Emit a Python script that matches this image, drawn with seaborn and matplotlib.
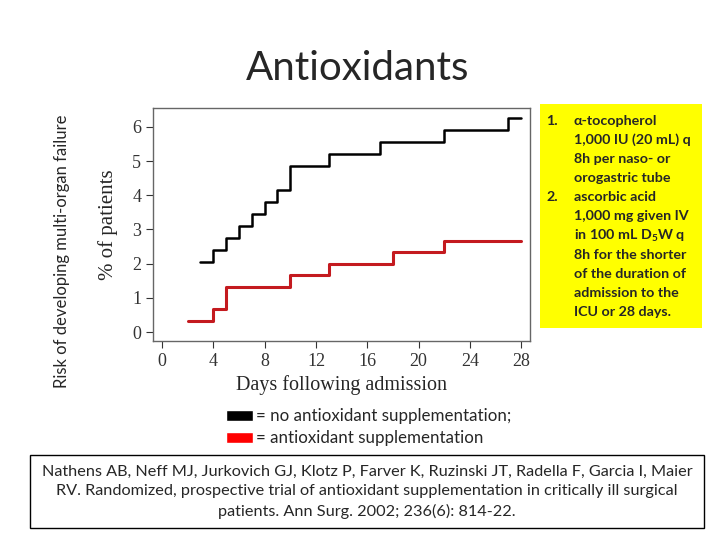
import pandas as pd
import matplotlib
matplotlib.use("Agg")
import matplotlib.pyplot as plt
import seaborn as sns
from matplotlib.patches import Rectangle

# step curves (days, % of patients)
days_control = [3, 4, 5, 6, 7, 8, 9, 10, 13, 17, 22, 27, 28]
pct_control = [2.05, 2.4, 2.75, 3.1, 3.45, 3.8, 4.15, 4.85, 5.2, 5.55, 5.9, 6.25, 6.25]
days_treated = [2, 4, 5, 10, 13, 18, 22, 28]
pct_treated = [0.33, 0.67, 1.33, 1.67, 2.0, 2.33, 2.67, 2.67]
x_ticks = [0, 4, 8, 12, 16, 20, 24, 28]
y_ticks = [0, 1, 2, 3, 4, 5, 6]

box_lines = [
    ("1.", "α-tocopherol"),
    ("", "1,000 IU (20 mL) q"),
    ("", "8h per naso- or"),
    ("", "orogastric tube"),
    ("2.", "ascorbic acid"),
    ("", "1,000 mg given IV"),
    ("", "in 100 mL D$_5$W q"),
    ("", "8h for the shorter"),
    ("", "of the duration of"),
    ("", "admission to the"),
    ("", "ICU or 28 days."),
]
citation = ("Nathens AB, Neff MJ, Jurkovich GJ, Klotz P, Farver K, Ruzinski JT, Radella F, Garcia I, Maier\n"
            "RV. Randomized, prospective trial of antioxidant supplementation in critically ill surgical\n"
            "patients. Ann Surg. 2002; 236(6): 814-22.")

sns.set_style("ticks")
plt.rcParams['font.family'] = ['Lato', 'DejaVu Sans']
plt.rcParams['mathtext.default'] = 'regular'
serif = ['Liberation Serif', 'DejaVu Serif']

df_c = pd.DataFrame({'day': days_control, 'pct': pct_control})
df_t = pd.DataFrame({'day': days_treated, 'pct': pct_treated})

fig = plt.figure(figsize=(7.2, 5.4), dpi=100)
ax = fig.add_axes([0.2125, 0.3685, 0.524, 0.4315])

sns.lineplot(data=df_c, x='day', y='pct', ax=ax, color='black', linewidth=1.8,
             drawstyle='steps-post', estimator=None)
sns.lineplot(data=df_t, x='day', y='pct', ax=ax, color='#c41a1f', linewidth=2.2,
             drawstyle='steps-post', estimator=None)

ax.set_xlim(-0.7, 28.7)
ax.set_ylim(-0.26, 6.55)
ax.set_xticks(x_ticks)
ax.set_yticks(y_ticks)
for lab in ax.get_xticklabels() + ax.get_yticklabels():
    lab.set_family(serif)
    lab.set_fontsize(13)
ax.tick_params(colors='#333333', length=5, width=0.8)
for sp in ax.spines.values():
    sp.set_visible(True)
    sp.set_color('#666666')
    sp.set_linewidth(1.0)
ax.set_xlabel('Days following admission', family=serif, fontsize=14.5, labelpad=4)
ax.set_ylabel('% of patients', family=serif, fontsize=15, labelpad=10)

fig.text(0.086, 0.535, 'Risk of developing multi-organ failure', rotation=90,
         ha='center', va='center', fontsize=12)

fig.text(0.497, 0.874, 'Antioxidants', ha='center', va='center', fontsize=29)

# yellow protocol box
fig.patches.append(Rectangle((540 / 720, 1 - 328 / 540), 162 / 720, 224 / 540,
                             transform=fig.transFigure, facecolor='#ffff00',
                             edgecolor='none'))
for i, (num, txt) in enumerate(box_lines):
    y = 1 - (121 + i * 19.1) / 540
    if num:
        fig.text(546 / 720, y, num, ha='left', va='center', fontsize=10.3, weight='bold')
    fig.text(574 / 720, y, txt, ha='left', va='center', fontsize=10.3, weight='bold')

# legend swatches
fig.patches.append(Rectangle((226 / 720, 1 - 421 / 540), 27 / 720, 11 / 540,
                             transform=fig.transFigure, facecolor='black'))
fig.patches.append(Rectangle((226 / 720, 1 - 443 / 540), 27 / 720, 11 / 540,
                             transform=fig.transFigure, facecolor='#ff0000'))
fig.text(256 / 720, 1 - 416 / 540, '= no antioxidant supplementation;',
         ha='left', va='center', fontsize=12.2)
fig.text(256 / 720, 1 - 438 / 540, '= antioxidant supplementation',
         ha='left', va='center', fontsize=12.2)

# citation box
fig.patches.append(Rectangle((30 / 720, 1 - 528 / 540), 674 / 720, 73 / 540,
                             transform=fig.transFigure, facecolor='white',
                             edgecolor='black', linewidth=1.0))
fig.text(367 / 720, 1 - 492 / 540, citation, ha='center', va='center',
         fontsize=11.7, linespacing=1.5)

fig.savefig('out.png', dpi=100)
